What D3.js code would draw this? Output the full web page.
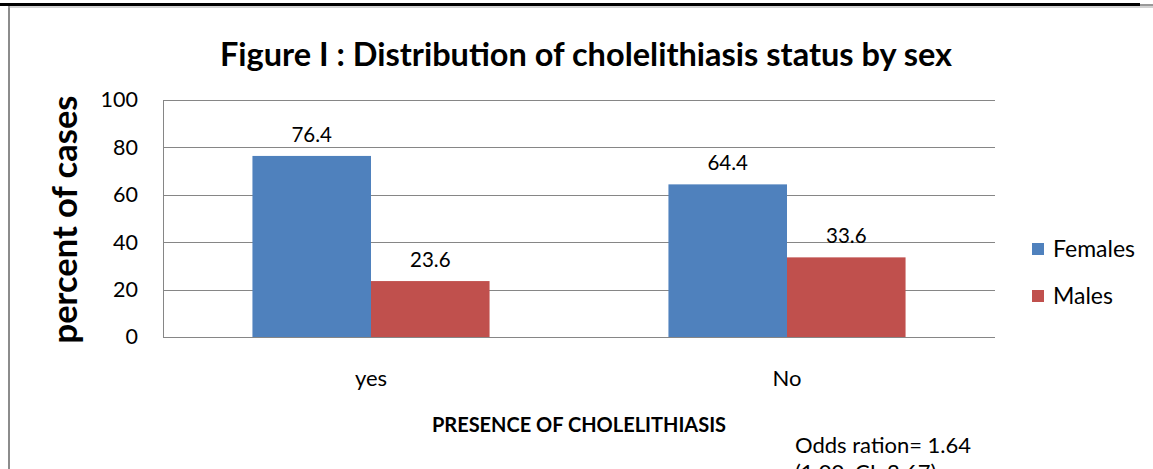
<!DOCTYPE html>
<html>
<head>
<meta charset="utf-8">
<script src="https://cdn.jsdelivr.net/npm/d3@7"></script>
<style>
  body { margin: 0; background: #fff; overflow: hidden; }
  svg { display: block; font-family: Lato, 'Open Sans', sans-serif; }
</style>
</head>
<body>
<svg id="chart"></svg>
<script>
const categories = ['yes', 'No'];
const seriesNames = ['Females', 'Males'];
const females = [76.4, 64.4];
const males = [23.6, 33.6];
const yTicks = [0, 20, 40, 60, 80, 100];

const colors = { Females: '#4F81BD', Males: '#C0504D' };

const width = 1153;
const height = 469;
const margin = { top: 100, right: 158, bottom: 132, left: 163 };
const innerWidth = width - margin.left - margin.right;
const innerHeight = height - margin.top - margin.bottom;

const svg = d3.select('#chart').attr('width', width).attr('height', height);

// page frame bits
svg.append('line').attr('x1', 0).attr('x2', 1140).attr('y1', 4.5).attr('y2', 4.5)
  .attr('stroke', '#000').attr('stroke-width', 3);
svg.append('line').attr('x1', 1140).attr('x2', width).attr('y1', 5).attr('y2', 5)
  .attr('stroke', '#999').attr('stroke-width', 2);
svg.append('line').attr('x1', 9).attr('x2', 9).attr('y1', 6).attr('y2', height)
  .attr('stroke', '#8c8c8c').attr('stroke-width', 2);
svg.append('line').attr('x1', 8).attr('x2', width).attr('y1', 7).attr('y2', 7)
  .attr('stroke', '#a6a6a6').attr('stroke-width', 1);

const x0 = d3.scaleBand().domain(categories).range([0, innerWidth]);
const barW = x0.bandwidth() * 0.285;
const x1 = d3.scaleBand().domain(seriesNames).range([-barW, barW]);

const y = d3.scaleLinear().domain([0, 100]).range([innerHeight, 0]);

const g = svg.append('g').attr('transform', `translate(${margin.left},${margin.top})`);

// gridlines
g.append('g')
  .selectAll('line')
  .data(yTicks)
  .enter()
  .append('line')
  .attr('x1', 0)
  .attr('x2', innerWidth)
  .attr('y1', (d) => Math.round(y(d)) + 0.5)
  .attr('y2', (d) => Math.round(y(d)) + 0.5)
  .attr('stroke', '#868686')
  .attr('stroke-width', 1);

const yAxis = d3.axisLeft(y).tickValues(yTicks).tickSize(0).tickPadding(25);
g.append('g')
  .call(yAxis)
  .call((s) => s.select('.domain').attr('stroke', '#868686'))
  .selectAll('text')
  .attr('font-size', '21.5px')
  .attr('font-family', 'Lato, sans-serif')
  .attr('fill', '#000');

const data = categories.map((c, i) => ({ cat: c, values: [
  { key: 'Females', value: females[i] },
  { key: 'Males', value: males[i] }
] }));

const groups = g.selectAll('.group')
  .data(data)
  .enter()
  .append('g')
  .attr('class', 'group')
  .attr('transform', (d) => `translate(${x0(d.cat) + x0.bandwidth() / 2},0)`);

groups.selectAll('rect')
  .data((d) => d.values)
  .enter()
  .append('rect')
  .attr('x', (d) => x1(d.key))
  .attr('width', x1.bandwidth())
  .attr('y', (d) => y(d.value))
  .attr('height', (d) => innerHeight - y(d.value))
  .attr('fill', (d) => colors[d.key]);

groups.selectAll('.val')
  .data((d) => d.values)
  .enter()
  .append('text')
  .attr('class', 'val')
  .attr('x', (d) => x1(d.key) + x1.bandwidth() / 2)
  .attr('y', (d) => y(d.value) - 14)
  .attr('text-anchor', 'middle')
  .attr('font-size', '20.5px')
  .text((d) => d.value.toFixed(1));

// category labels
g.append('g')
  .selectAll('text')
  .data(categories)
  .enter()
  .append('text')
  .attr('x', (d) => x0(d) + x0.bandwidth() / 2)
  .attr('y', innerHeight + 49)
  .attr('text-anchor', 'middle')
  .attr('font-size', '22px')
  .text((d) => d);

// axis titles
svg.append('text')
  .attr('x', margin.left + innerWidth / 2)
  .attr('y', 432)
  .attr('text-anchor', 'middle')
  .attr('font-size', '20px')
  .attr('font-weight', 'bold')
  .text('PRESENCE OF CHOLELITHIASIS');

svg.append('text')
  .attr('transform', `translate(77,${margin.top + innerHeight / 2 + 1}) rotate(-90)`)
  .attr('text-anchor', 'middle')
  .attr('font-size', '34.5px')
  .attr('font-weight', 'bold')
  .text('percent of cases');

svg.append('text')
  .attr('x', 586)
  .attr('y', 66)
  .attr('text-anchor', 'middle')
  .attr('font-size', '32.5px')
  .attr('font-weight', 'bold')
  .text('Figure I : Distribution of cholelithiasis status by sex');

// legend
const legend = svg.append('g').attr('transform', 'translate(1032,0)');
seriesNames.forEach((s, i) => {
  const ly = 243 + i * 47;
  legend.append('rect').attr('x', 0).attr('y', ly).attr('width', 12).attr('height', 12).attr('fill', colors[s]);
  legend.append('text').attr('x', 21).attr('y', ly + 14).attr('font-size', '23px').text(s);
});

// odds ratio note (second line runs off the bottom like the source)
svg.append('text')
  .attr('x', 795)
  .attr('y', 453)
  .attr('font-size', '22px')
  .text('Odds ration= 1.64');
svg.append('text')
  .attr('x', 795)
  .attr('y', 480)
  .attr('font-size', '22px')
  .text('(1.00, CI: 2.67)');
</script>
</body>
</html>
